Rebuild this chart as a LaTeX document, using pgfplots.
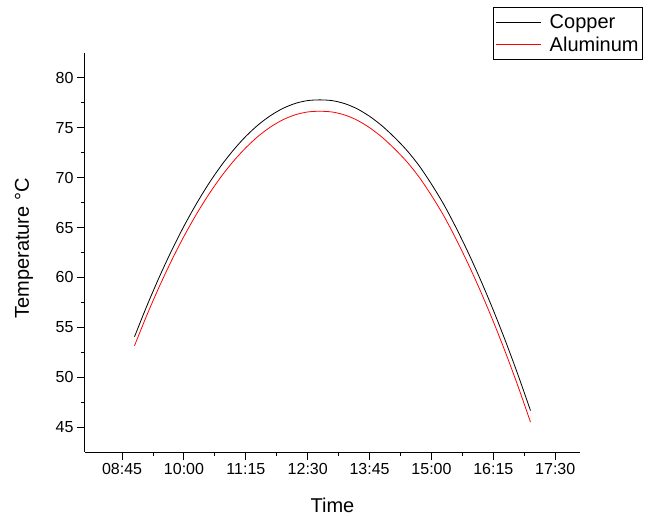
\documentclass[border=0pt]{standalone}
\usepackage{pgfplots}
\pgfplotsset{compat=1.18}
\usepackage{fontspec}
\setmainfont{Liberation Sans}

\pgfplotstableread{
t     copper  aluminum
540   54.05   53.15
555   57.15   56.22
570   60.03   59.07
585   62.70   61.71
600   65.15   64.13
615   67.38   66.33
630   69.40   68.32
645   71.20   70.10
660   72.78   71.66
675   74.15   73.01
690   75.30   74.16
705   76.23   75.09
720   76.95   75.81
735   77.45   76.31
750   77.73   76.59
765   77.80   76.66
780   77.72   76.58
795   77.42   76.28
810   76.90   75.76
825   76.15   75.01
840   75.20   74.06
855   74.05   72.91
870   72.75   71.61
885   71.20   70.06
900   69.35   68.21
915   67.30   66.16
930   64.95   63.81
945   62.40   61.26
960   59.65   58.51
975   56.70   55.56
990   53.55   52.41
1005  50.20   49.06
1020  46.65   45.50
}\tempdata

\begin{document}
\begin{tikzpicture}
  \begin{axis}[
    scale only axis,
    width=495pt,
    height=399pt,
    axis lines=left,
    axis line style={-, line width=1pt},
    xmin=480, xmax=1080,
    ymin=42.5, ymax=82.5,
    xtick={525,600,675,750,825,900,975,1050},
    xticklabels={08:45,10:00,11:15,12:30,13:45,15:00,16:15,17:30},
    ytick={45,50,...,80},
    minor x tick num=1,
    minor y tick num=1,
    tick align=outside,
    major tick length=8pt,
    minor tick length=4pt,
    tick style={line width=1pt, black},
    /pgf/number format/assume math mode=true,
    ticklabel style={font=\fontsize{16}{19}\selectfont},
    label style={font=\fontsize{20}{24}\selectfont},
    xlabel={Time},
    ylabel={Temperature °C},
    xlabel style={at={(axis description cs:0.5,0)}, anchor=base, yshift=-60pt},
    ylabel style={at={(axis description cs:-0.1232,0.51)}, anchor=center},
    legend cell align=left,
    legend style={
      at={(1,1)}, anchor=north east, xshift=63pt, yshift=46pt,
      draw=black, line width=0.7pt,
      font=\fontsize{20}{23}\selectfont,
      inner xsep=3pt, inner ysep=6pt, row sep=5pt, column sep=7pt,
      nodes={inner xsep=1pt, inner ysep=1pt},
    },
    legend image code/.code={\draw[#1, line width=0.8pt] (0pt,0pt) -- (45pt,0pt);},
  ]
    \addplot[black, line width=0.8pt, smooth] table[x=t, y=copper]{\tempdata};
    \addlegendentry{Copper}
    \addplot[red, line width=0.8pt, smooth] table[x=t, y=aluminum]{\tempdata};
    \addlegendentry{Aluminum}
  \end{axis}
  \pgfresetboundingbox
  \path (-85pt,-63pt) rectangle (564pt,452pt);
\end{tikzpicture}
\end{document}
